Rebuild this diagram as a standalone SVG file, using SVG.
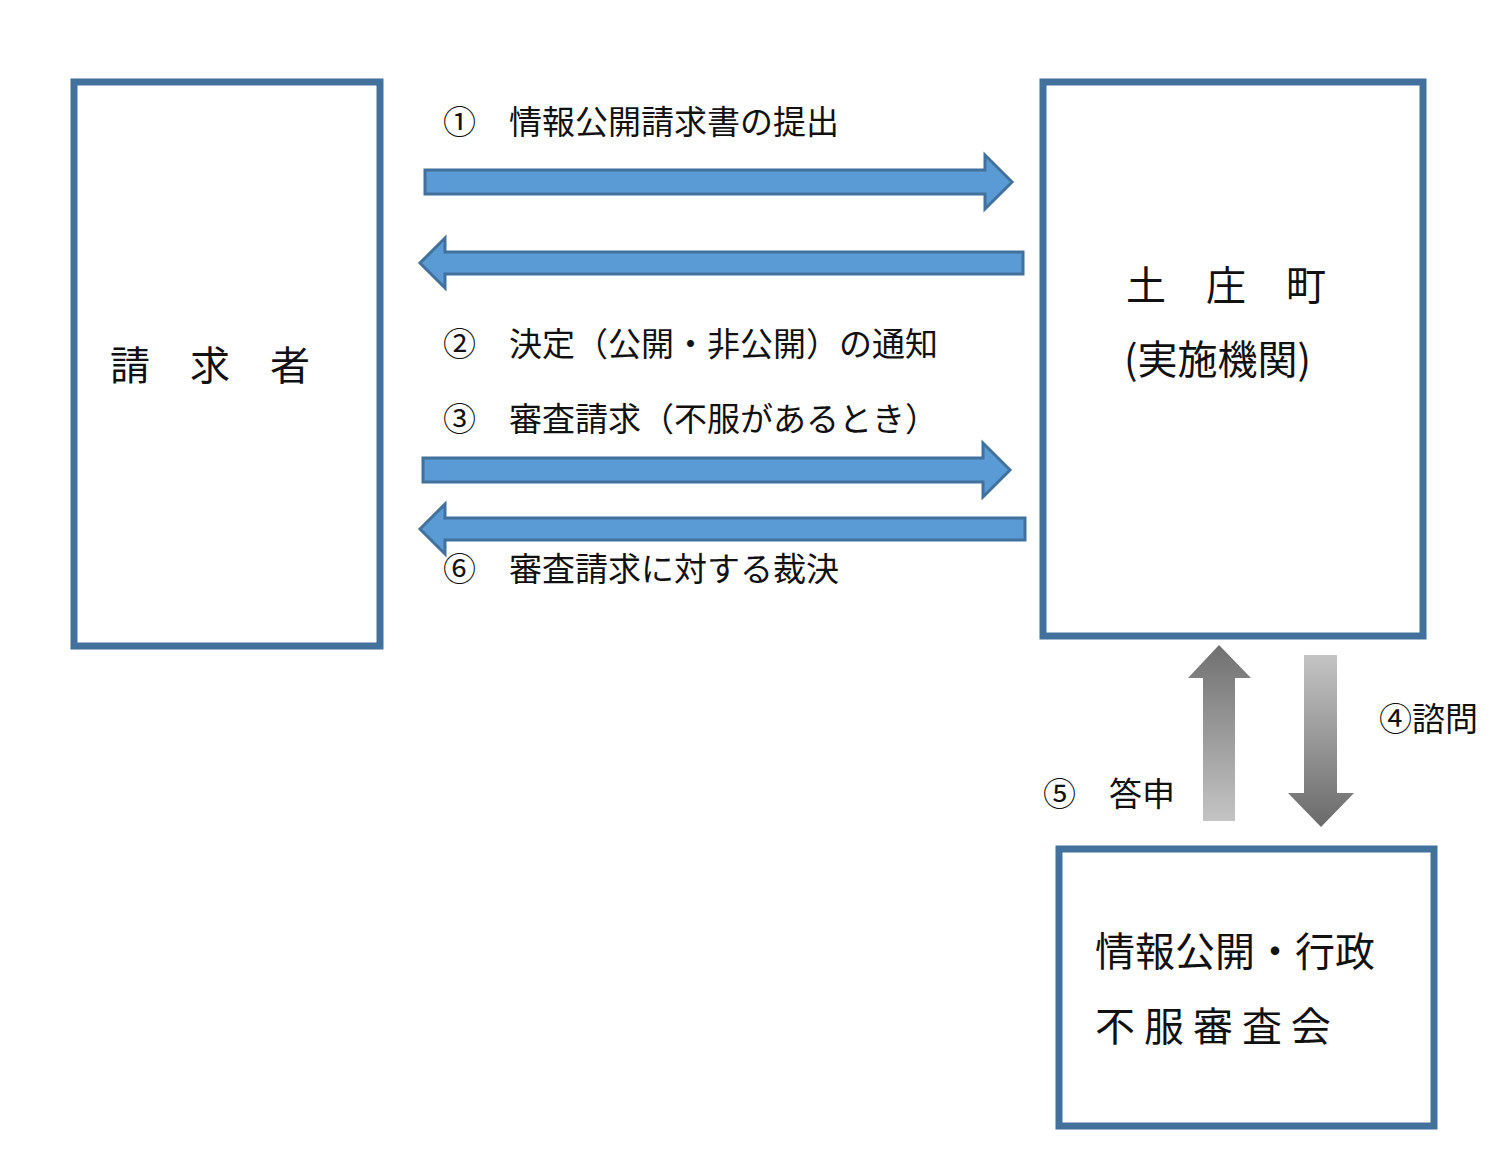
<svg xmlns="http://www.w3.org/2000/svg" width="1512" height="1152" viewBox="0 0 1512 1152">
<defs>
<style>
.box{fill:#fff;stroke:#41719c;stroke-width:7}
.ba{fill:#5b9bd5;stroke:#41719c;stroke-width:3}
text{font-family:"Noto Sans CJK JP","Noto Sans CJK SC",sans-serif;fill:#111}
.t{font-size:33px}
.n{font-size:40px}
</style>
<linearGradient id="gu" x1="0" y1="0" x2="0" y2="1"><stop offset="0" stop-color="#707070"/><stop offset="1" stop-color="#c4c4c4"/></linearGradient>
<linearGradient id="gd" x1="0" y1="0" x2="0" y2="1"><stop offset="0" stop-color="#c4c4c4"/><stop offset="1" stop-color="#6a6a6a"/></linearGradient>
</defs>
<rect width="1512" height="1152" fill="#fff"/>
<g id="requester"><rect class="box" x="74" y="82" width="306" height="564"/><text class="n" x="110" y="380">請　求　者</text></g>
<g id="town"><rect class="box" x="1043" y="82" width="380" height="554"/><text class="n" x="1126" y="300">土　庄　町</text><text class="n" x="1124" y="374">(実施機関)</text></g>
<g id="council"><rect class="box" x="1059" y="849" width="375" height="277"/><text class="n" x="1095" y="966">情報公開・行政</text><text class="n" x="1095" y="1041">不 服 審 査 会</text></g>
<g id="connectors">
<polygon class="ba" points="425,170 985,170 985,155 1012,182 985,209 985,194 425,194"/>
<polygon class="ba" points="1023,252 445,252 445,238 420,263 445,288 445,274 1023,274"/>
<polygon class="ba" points="423,458 983,458 983,443 1010,470 983,497 983,482 423,482"/>
<polygon class="ba" points="1025,518 445,518 445,504 420,529 445,554 445,540 1025,540"/>
<polygon fill="url(#gu)" points="1203,821 1203,678 1188,678 1219,645 1251,678 1235,678 1235,821"/>
<polygon fill="url(#gd)" points="1304,655 1337,655 1337,793 1354,793 1321,827 1288,793 1304,793"/>
</g>
<g id="labels">
<text class="t" x="443" y="134">①　情報公開請求書の提出</text>
<text class="t" x="443" y="356">②　決定（公開・非公開）の通知</text>
<text class="t" x="443" y="431">③　審査請求（不服があるとき）</text>
<text class="t" x="443" y="581">⑥　審査請求に対する裁決</text>
<text class="t" x="1043" y="806">⑤　答申</text>
<text class="t" x="1379" y="731">④諮問</text>
</g>
</svg>
